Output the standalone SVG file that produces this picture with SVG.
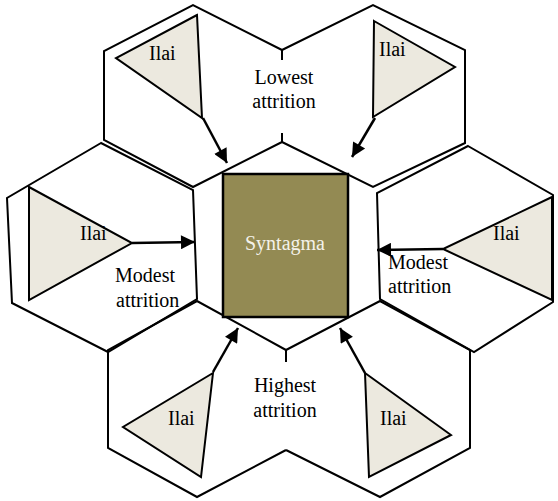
<svg xmlns="http://www.w3.org/2000/svg" width="558" height="501" viewBox="0 0 558 501">
  <defs>
    <marker id="head" viewBox="0 0 10 10" refX="10" refY="5" markerWidth="7" markerHeight="5.6" markerUnits="strokeWidth" orient="auto">
      <path d="M0,0 L10,5 L0,10 Z" fill="#000"/>
    </marker>
    <style>
      .hex { fill: none; stroke: #000; stroke-width: 2; stroke-linejoin: miter; }
      .tri { fill: #ECE9DF; stroke: #000; stroke-width: 2; }
      .lbl { font-family: "Liberation Serif", "Times New Roman", serif; font-size: 20px; fill: #000; }
      .mid { text-anchor: middle; }
      .arrow { fill: none; stroke: #000; stroke-width: 2.5; marker-end: url(#head); }
    </style>
  </defs>
  <rect width="558" height="501" fill="#fff"/>

  <!-- hexagonal zones -->
  <g id="hex-top-left">
    <path class="hex" d="M282,50 L193,5 L104,51 L104,140 L193,187 L282,142 M282,50 V60 M282,142 V133"/>
  </g>
  <g id="hex-top-right">
    <path class="hex" d="M282,50 L373,5 L465,50 L465,143 L373,187 L282,142"/>
  </g>
  <g id="hex-left">
    <path class="hex" d="M101,143 L7,198 L12,303 L108,352 L197,299 L193,190 Z"/>
  </g>
  <g id="hex-right">
    <path class="hex" d="M468,146 L553,195 L553,302 L474,352 L380,299 L377,193 Z"/>
  </g>
  <g id="hex-bottom-left">
    <path class="hex" d="M286,350 L197,301 L108,350 L108,448 L197,497 L286,450 M286,350 V362"/>
  </g>
  <g id="hex-bottom-right">
    <path class="hex" d="M286,350 L380,301 L470,350 L470,448 L380,497 L286,450"/>
  </g>

  <!-- zone captions -->
  <g id="zone-top-label">
    <text class="lbl mid" x="284" y="84">Lowest</text>
    <text class="lbl mid" x="284" y="108">attrition</text>
  </g>
  <g id="zone-bottom-label">
    <text class="lbl mid" x="285" y="392">Highest</text>
    <text class="lbl mid" x="285" y="417">attrition</text>
  </g>
  <g id="zone-left-label">
    <text class="lbl" x="115" y="282">Modest</text>
    <text class="lbl" x="116" y="307">attrition</text>
  </g>
  <g id="zone-right-label">
    <text class="lbl" x="388" y="269">Modest</text>
    <text class="lbl" x="388" y="293">attrition</text>
  </g>

  <!-- central square -->
  <g id="syntagma">
    <rect x="223" y="174" width="125" height="143" fill="#938A53" stroke="#000" stroke-width="2.5"/>
    <text class="lbl mid" x="285" y="250" style="fill:#F4F2EA">Syntagma</text>
  </g>

  <!-- Ilai triangles -->
  <g id="ilai-top-left">
    <polygon class="tri" points="197,15 116,58 202,118"/>
    <text class="lbl" x="149" y="60">Ilai</text>
  </g>
  <g id="ilai-top-right">
    <polygon class="tri" points="374,21 455,67 373,117"/>
    <text class="lbl" x="379" y="56">Ilai</text>
  </g>
  <g id="ilai-left">
    <polygon class="tri" points="29,187 132,243 29,300"/>
    <text class="lbl" x="80" y="240">Ilai</text>
  </g>
  <g id="ilai-right">
    <polygon class="tri" points="552,197 443,249 552,300"/>
    <text class="lbl" x="493" y="240">Ilai</text>
  </g>
  <g id="ilai-bottom-left">
    <polygon class="tri" points="213,373 123,427 201,477"/>
    <text class="lbl" x="168" y="425">Ilai</text>
  </g>
  <g id="ilai-bottom-right">
    <polygon class="tri" points="365,373 451,435 369,477"/>
    <text class="lbl" x="380" y="425">Ilai</text>
  </g>

  <!-- connectors -->
  <g id="connectors">
    <line class="arrow" x1="203" y1="118" x2="227" y2="163"/>
    <line class="arrow" x1="375" y1="118" x2="352" y2="157"/>
    <line class="arrow" x1="132" y1="243" x2="195" y2="242"/>
    <line class="arrow" x1="443" y1="249" x2="377" y2="250"/>
    <line class="arrow" x1="213" y1="372" x2="238" y2="328"/>
    <line class="arrow" x1="365" y1="373" x2="340" y2="328"/>
  </g>
</svg>
